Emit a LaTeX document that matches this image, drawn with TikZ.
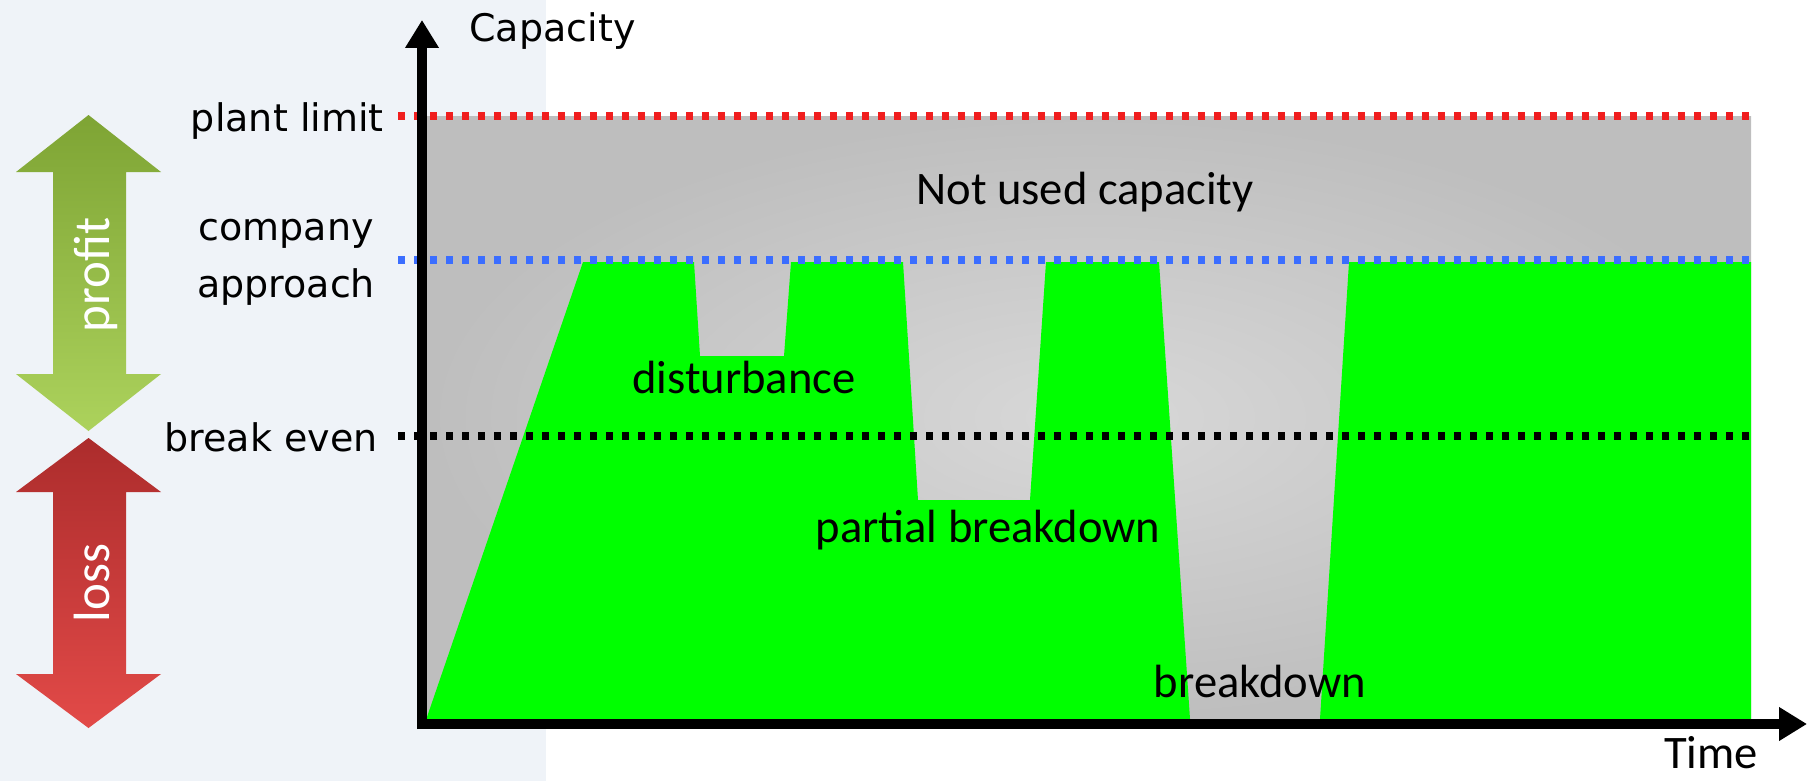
\documentclass[tikz,border=0pt]{standalone}
\usepackage{fontspec}
\setmainfont{Carlito}
\newfontfamily\dvfont{DejaVu Sans}
\usetikzlibrary{arrows.meta}
\definecolor{panelbg}{RGB}{239,243,248}
\definecolor{gouter}{RGB}{190,190,190}
\definecolor{ginner}{RGB}{216,216,216}
\definecolor{brightgreen}{RGB}{0,255,0}
\definecolor{limitred}{RGB}{240,30,30}
\definecolor{approachblue}{RGB}{59,110,255}
\definecolor{profittop}{RGB}{126,164,52}
\definecolor{profitbot}{RGB}{172,210,92}
\definecolor{losstop}{RGB}{172,44,44}
\definecolor{lossbot}{RGB}{226,74,72}
\tikzset{
  dotline/.style={line width=3.7pt, dash pattern=on 3.7pt off 4.3pt},
  axisline/.style={line width=5pt, -{Triangle[width=16pt,length=14pt]}},
  leftlabel/.style={font=\dvfont\fontsize{19}{23}\selectfont, inner sep=0pt},
  innerlabel/.style={font=\fontsize{23.3}{28}\selectfont, inner sep=0pt},
  arrowlabel/.style={font=\fontsize{25.5}{30}\selectfont, text=white, inner sep=0pt, rotate=90, anchor=base},
}
\begin{document}
\begin{tikzpicture}[x=0.5pt,y=-0.5pt]
\useasboundingbox (0,0) rectangle (1807,781);
% left panel
\fill[panelbg] (0,0) rectangle (546,781);
% gray capacity area
\shade[inner color=ginner, outer color=gouter] (427,116) rectangle (1751,719);
% green production
\fill[brightgreen] (427,717) -- (583,262) -- (694,262) -- (700,356) -- (784,356) -- (791,262)
  -- (903,262) -- (918,500) -- (1030,500) -- (1046,262) -- (1159,262) -- (1190,719)
  -- (1320,719) -- (1349,262) -- (1751,262) -- (1751,719) -- (427,719) -- cycle;
% level lines
\coordinate (pl0) at (398,116); \coordinate (pl1) at (1751,116);
\coordinate (ca0) at (398,260); \coordinate (ca1) at (1751,260);
\coordinate (be0) at (398,436); \coordinate (be1) at (1751,436);
\draw[dotline, limitred] (pl0) -- (pl1);
\draw[dotline, approachblue] (ca0) -- (ca1);
\draw[dotline, black] (be0) -- (be1);
% axes
\coordinate (yb) at (422,729);
\coordinate (yt) at (422,20);
\coordinate (xl) at (417,724);
\coordinate (xr) at (1807,724);
\draw[axisline] (yb) -- (yt);
\draw[axisline] (xl) -- (xr);
% profit / loss arrows
\shade[top color=profittop, bottom color=profitbot]
  (88.5,115) -- (161,172) -- (126,172) -- (126,374) -- (161,374) -- (88.5,431)
  -- (16,374) -- (53,374) -- (53,172) -- (16,172) -- cycle;
\shade[top color=losstop, bottom color=lossbot]
  (88.5,438) -- (161,492) -- (126,492) -- (126,674) -- (161,674) -- (88.5,728)
  -- (16,674) -- (53,674) -- (53,492) -- (16,492) -- cycle;
\node[arrowlabel] (profit) at (109,275) {profit};
\node[arrowlabel] (loss) at (109,583) {loss};
% labels
\node[leftlabel, anchor=base west] (cap) at (469,42) {Capacity};
\node[leftlabel, anchor=base east] (plant) at (384,132) {plant limit};
\node[leftlabel, anchor=base] (company) at (286,240) {company};
\node[leftlabel, anchor=base] (approach) at (286,297) {approach};
\node[leftlabel, anchor=base east] (breakeven) at (378,451) {break even};
\node[innerlabel, anchor=base] (notused) at (1085,204) {Not used capacity};
\node[innerlabel, anchor=base] (disturb) at (744,393) {disturbance};
\node[innerlabel, anchor=base] (partial) at (988,542) {partial breakdown};
\node[innerlabel, anchor=base] (breakdown) at (1260,697) {breakdown};
\node[innerlabel, anchor=base] (time) at (1711,768) {Time};
\end{tikzpicture}
\end{document}
